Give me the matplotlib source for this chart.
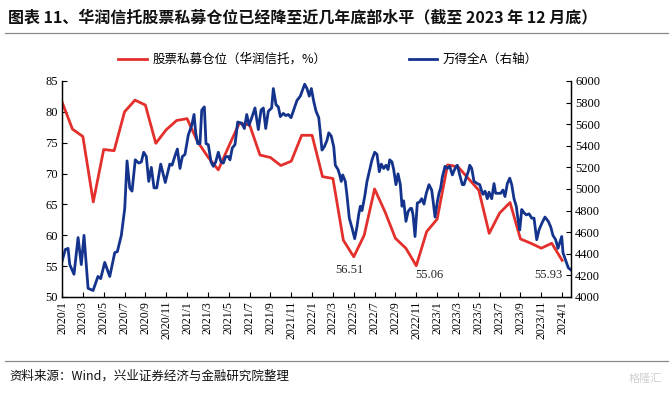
import numpy as np
import matplotlib
matplotlib.use("Agg")
import matplotlib.pyplot as plt
from matplotlib.lines import Line2D

# ── Data ──────────────────────────────────────────────────────────────
# month index: 0 = 2020/1 ... 48 = 2024/1
tick_labels = ["2020/1", "2020/3", "2020/5", "2020/7", "2020/9", "2020/11",
               "2021/1", "2021/3", "2021/5", "2021/7", "2021/9", "2021/11",
               "2022/1", "2022/3", "2022/5", "2022/7", "2022/9", "2022/11",
               "2023/1", "2023/3", "2023/5", "2023/7", "2023/9", "2023/11",
               "2024/1"]

# 股票私募仓位（华润信托，%），monthly
pos_month = list(range(49))
pos_value = [81.6, 77.2, 76.0, 65.4, 73.9, 73.7, 80.0, 81.9, 81.1, 74.9,
             77.1, 78.6, 78.9, 75.2, 72.7, 70.6, 74.4, 78.1, 77.9, 73.0,
             72.6, 71.3, 72.0, 76.2, 76.2, 69.5, 69.2, 59.2, 56.51, 60.0,
             67.5, 63.8, 59.5, 57.9, 55.06, 60.6, 62.6, 71.4, 71.1, 69.2,
             67.3, 60.3, 63.6, 65.3, 59.4, 58.7, 57.9, 58.7, 55.93]

# 万得全A, roughly weekly (month index as float)
wind_t = [0.00, 0.32, 0.58, 0.74, 1.15, 1.54, 1.85, 2.11, 2.50, 2.98,
          3.45, 3.71, 4.10, 4.58, 5.06, 5.31, 5.69, 6.02, 6.24, 6.50,
          6.72, 7.03, 7.36, 7.61, 7.84, 8.09, 8.32, 8.57, 8.83, 9.09,
          9.47, 9.91, 10.34, 10.56, 10.82, 11.07, 11.32, 11.55, 11.80, 12.12,
          12.45, 12.67, 12.83, 13.02, 13.24, 13.41, 13.66, 13.82, 14.04, 14.30,
          14.52, 14.75, 15.00, 15.26, 15.48, 15.71, 15.96, 16.12, 16.34, 16.60,
          16.86, 17.25, 17.50, 17.73, 17.95, 18.21, 18.52, 18.84, 19.10, 19.32,
          19.55, 19.80, 20.12, 20.28, 20.54, 20.76, 20.95, 21.24, 21.47, 21.72,
          21.98, 22.33, 22.55, 22.87, 23.10, 23.29, 23.51, 23.73, 23.93, 24.16,
          24.38, 24.64, 24.79, 24.95, 25.17, 25.43, 25.60, 25.84, 26.08, 26.23,
          26.49, 26.65, 26.80, 26.94, 27.19, 27.35, 27.57, 27.83, 28.09, 28.31,
          28.47, 28.63, 28.79, 29.05, 29.27, 29.49, 29.75, 30.01, 30.23, 30.45,
          30.64, 30.87, 31.09, 31.29, 31.45, 31.67, 31.83, 32.05, 32.25, 32.47,
          32.63, 32.79, 33.01, 33.21, 33.43, 33.56, 33.69, 33.88, 34.00, 34.10,
          34.33, 34.52, 34.74, 34.96, 35.22, 35.48, 35.60, 35.80, 36.02, 36.18,
          36.34, 36.50, 36.76, 36.98, 37.21, 37.46, 37.72, 37.94, 38.17, 38.42,
          38.58, 38.80, 38.99, 39.13, 39.32, 39.54, 39.86, 40.09, 40.28, 40.40,
          40.60, 40.82, 40.98, 41.24, 41.46, 41.62, 41.87, 42.10, 42.32, 42.51,
          42.74, 42.97, 43.16, 43.38, 43.60, 43.79, 43.93, 44.12, 44.34, 44.56,
          44.82, 45.08, 45.30, 45.56, 45.78, 46.04, 46.35, 46.67, 46.90, 47.12,
          47.38, 47.60, 47.76, 47.96, 48.08, 48.34, 48.59, 48.85]
wind_v = [4330, 4440, 4450, 4300, 4210, 4550, 4300, 4570, 4080, 4060,
          4190, 4170, 4320, 4190, 4410, 4420, 4570, 4820, 5260, 5010,
          4980, 5270, 5240, 5250, 5340, 5300, 5070, 5200, 5010, 5010,
          5230, 5060, 5230, 5220, 5300, 5370, 5190, 5300, 5320, 5500,
          5590, 5690, 5520, 5420, 5420, 5730, 5760, 5420, 5410, 5250,
          5210, 5250, 5340, 5250, 5240, 5300, 5300, 5270, 5380, 5410,
          5620, 5610, 5560, 5690, 5590, 5660, 5750, 5550, 5730, 5750,
          5560, 5720, 5750, 5930, 5780, 5760, 5670, 5700, 5680, 5690,
          5660, 5760, 5820, 5860, 5920, 5970, 5930, 5860, 5930, 5810,
          5720, 5660, 5520, 5360, 5390, 5450, 5520, 5490, 5390, 5220,
          5180, 5130, 5070, 5130, 5070, 4940, 4730, 4640, 4540, 4650,
          4760, 4840, 4800, 4930, 5070, 5160, 5270, 5340, 5320, 5160,
          5230, 5190, 5220, 5180, 5270, 5250, 5180, 5040, 5140, 5040,
          4840, 4890, 4700, 4790, 4820, 4820, 4760, 4560, 4730, 4870,
          4880, 4910, 4860, 4960, 5040, 4990, 4900, 4740, 4880, 4960,
          5010, 5110, 5210, 5190, 5210, 5130, 5190, 5220, 5130, 5040,
          5040, 5110, 5160, 5220, 5190, 5070, 5050, 5040, 4980, 4950,
          4980, 4910, 4970, 4910, 5050, 4960, 4960, 4960, 4990, 4930,
          5050, 5100, 5040, 4910, 4840, 4700, 4620, 4810, 4780, 4760,
          4770, 4730, 4730, 4530, 4620, 4680, 4740, 4700, 4650, 4570,
          4530, 4450, 4500, 4560, 4410, 4340, 4270, 4250]

# labelled lows of the position series
low_month = [28, 34, 48]
low_offset = [(-3, -9.5), (9.5, -7), (-10, -10.5)]  # text offset, points

RED = "#E3302C"
BLUE = "#14338C"
CJK = ["Noto Sans CJK SC", "DejaVu Sans"]
SERIF = "Liberation Serif"

plt.rcParams["font.family"] = CJK

# ── Figure ────────────────────────────────────────────────────────────
fig = plt.figure(figsize=(6.72, 3.97), dpi=100)
ax = fig.add_axes([0.0923, 0.252, 0.7574, 0.544])
ax2 = ax.twinx()

ax.plot(pos_month, pos_value, color=RED, lw=2.0, label="股票私募仓位（华润信托，%）")
ax2.plot(wind_t, wind_v, color=BLUE, lw=2.0, label="万得全A（右轴）")

for m, (dx, dy) in zip(low_month, low_offset):
    v = pos_value[m]
    ax.annotate(f"{v:.2f}", xy=(m, v), xytext=(dx, dy), textcoords="offset points",
                ha="center", va="center", fontsize=9, family=SERIF, color="#222222")

# axes
ax.set_xlim(0, 48.85)
ax.set_ylim(50, 85)
ax2.set_ylim(4000, 6000)
ax.set_xticks(range(0, 49, 2))
ax.set_xticklabels(tick_labels, rotation=90, fontsize=8.5, family=SERIF)
ax.set_yticks(range(50, 86, 5))
ax2.set_yticks(range(4000, 6001, 200))
for lab in ax.get_yticklabels() + ax2.get_yticklabels():
    lab.set_family(SERIF)
    lab.set_fontsize(9)

for a in (ax, ax2):
    a.spines["top"].set_visible(False)
    for s in ("left", "right", "bottom"):
        a.spines[s].set_linewidth(0.9)
        a.spines[s].set_color("black")
    a.tick_params(direction="in", length=3.5, width=0.8, pad=3, colors="black")
ax.tick_params(axis="x", pad=3)

# legend
h1, l1 = ax.get_legend_handles_labels()
h2, l2 = ax2.get_legend_handles_labels()
fig.legend(h1 + h2, l1 + l2, loc="center", bbox_to_anchor=(0.488, 0.85), ncol=2,
           frameon=False, fontsize=9, handlelength=2.3, handletextpad=0.4,
           columnspacing=6.6)

# title, rules, source
fig.text(0.012, 0.955, "图表 11、华润信托股票私募仓位已经降至近几年底部水平（截至 2023 年 12 月底）",
         fontsize=11.5, fontweight="bold", ha="left", va="center", color="#111111")
fig.add_artist(Line2D([0.007, 0.994], [0.916, 0.916], color="#8a8a8a", lw=0.9))
fig.add_artist(Line2D([0.007, 0.994], [0.090, 0.090], color="#8a8a8a", lw=0.9))
fig.text(0.014, 0.053, "资料来源：Wind，兴业证券经济与金融研究院整理",
         fontsize=9, ha="left", va="center", color="#111111")
fig.text(0.985, 0.045, "格隆汇", fontsize=8, ha="right", va="center", color="#d0d0d0")

fig.savefig("out.png", dpi=100, facecolor="white")
plt.close(fig)
